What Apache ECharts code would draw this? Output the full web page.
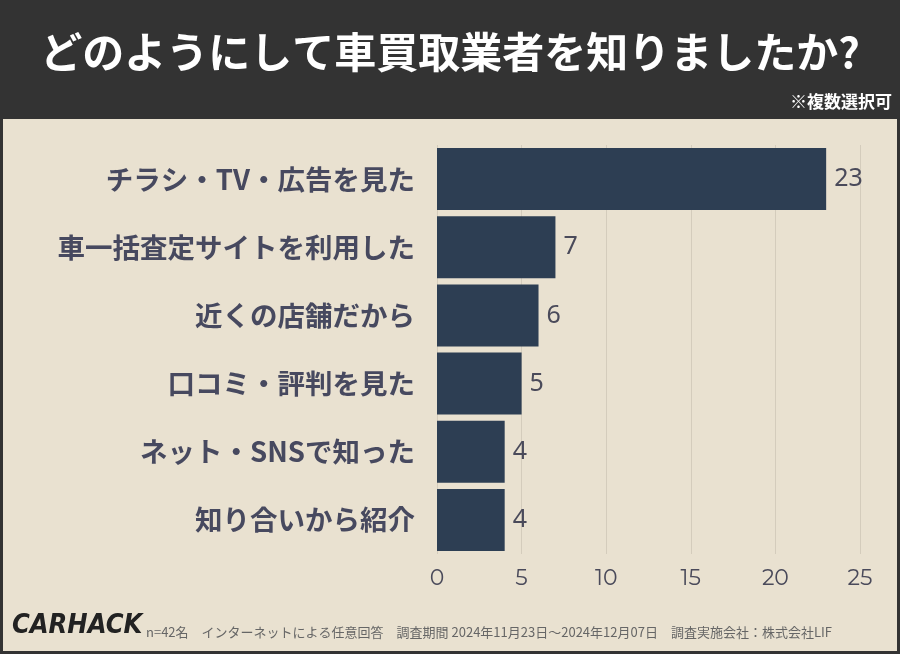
<!DOCTYPE html><html><head><meta charset="utf-8"><script src="https://cdn.jsdelivr.net/npm/echarts@6/dist/echarts.min.js"></script>
<style>body{margin:0}#c{width:900px;height:654px}</style></head><body><div id="c"></div><script>
const categories=["チラシ・TV・広告を見た","車一括査定サイトを利用した","近くの店舗だから","口コミ・評判を見た","ネット・SNSで知った","知り合いから紹介"];
const values=[23,7,6,5,4,4];
const xTicks=[0,5,10,15,20,25];
const title="どのようにして車買取業者を知りましたか?";
const note="※複数選択可";
const footer="n=42名　インターネットによる任意回答　調査期間 2024年11月23日～2024年12月07日　調査実施会社：株式会社LIF";
const c=echarts.init(document.getElementById('c'));
const F='"Noto Sans CJK JP","Noto Sans",sans-serif';
c.setOption({backgroundColor:'#e9e1d0',
graphic:[
{type:'rect',shape:{x:0,y:0,width:900,height:119},style:{fill:'#333333'}},
{type:'rect',shape:{x:1.5,y:1.5,width:897,height:651},style:{fill:'none',stroke:'#333333',lineWidth:3}},
{type:'text',left:'center',top:31,style:{text:title,fill:'#fff',font:'bold 42px '+F}},
{type:'text',right:8,top:93,style:{text:note,fill:'#fff',font:'bold 17px '+F}},
{type:'text',left:12,top:612,style:{text:'CARHACK',fill:'#222',font:'italic bold 27px "DejaVu Sans Condensed",sans-serif'}},
{type:'text',left:146,top:626,style:{text:footer,fill:'#666',font:'13px '+F}}
],
grid:{left:437,right:40,top:145,bottom:100},
xAxis:{type:'value',min:0,max:25,interval:5,axisLabel:{color:'#4a4a5a',fontSize:22,fontFamily:'Montserrat,"Noto Sans",sans-serif',margin:14},splitLine:{lineStyle:{color:'#d4ccbc'}},axisLine:{show:false},axisTick:{show:false}},
yAxis:{type:'category',inverse:true,data:categories,axisLine:{show:false},axisTick:{show:false},axisLabel:{color:'#47495f',fontSize:27.5,fontWeight:'bold',fontFamily:F,margin:22}},
series:[{type:'bar',data:values,barWidth:62,itemStyle:{color:'#2d3e53'},label:{show:true,position:'right',color:'#4a4a5a',fontSize:25,distance:8,fontFamily:'"Noto Sans",sans-serif'}}]
});
</script></body></html>
